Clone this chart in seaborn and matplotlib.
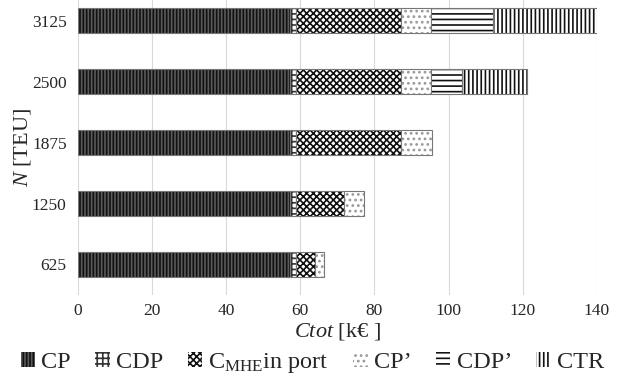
import numpy as np
import matplotlib
matplotlib.use("Agg")
import matplotlib.pyplot as plt
import seaborn as sns
from matplotlib.patches import Patch
from matplotlib.colors import to_rgba

# data (k€)
teu = ["3125", "2500", "1875", "1250", "625"]
cp = [57.2, 57.2, 57.2, 57.2, 57.2]
cdp = [1.6, 1.6, 1.6, 1.6, 1.6]
cmhe = [28.5, 28.5, 28.5, 13.0, 5.1]
cp2 = [7.9, 7.9, 8.1, 5.4, 2.5]
cdp2 = [16.7, 8.5, 0, 0, 0]
ctr = [28.0, 17.5, 0, 0, 0]

series = ["CP", "CDP", r"C$_{\rm MHE}$in port", "CP’", "CDP’", "CTR"]
values = [cp, cdp, cmhe, cp2, cdp2, ctr]
# facecolor, hatch, hatch colour
styles = [("#111111", "|||||", "#5a5a5a"),
          ("white", "+++", "#333333"),
          ("white", "xxxxx", "#111111"),
          ("white", "...", "#999999"),
          ("white", "---", "#111111"),
          ("white", "||||", "#111111")]

sns.set_style("white")
plt.rcParams["font.family"] = ["Liberation Serif", "DejaVu Serif"]
plt.rcParams["mathtext.fontset"] = "custom"
plt.rcParams["mathtext.rm"] = "Liberation Serif"
plt.rcParams["mathtext.it"] = "Liberation Serif:italic"
plt.rcParams["hatch.linewidth"] = 1.2

fig, ax = plt.subplots(figsize=(6.27, 3.83), dpi=100)

left = np.zeros(len(teu))
for vals, (fc, h, hc) in zip(values, styles):
    n0 = len(ax.patches)
    sns.barplot(x=vals, y=teu, left=left, width=0.41, color=fc, saturation=1,
                edgecolor="#777777", linewidth=0.8, hatch=h, ax=ax, zorder=3)
    for p in ax.patches[n0:]:
        p._hatch_color = to_rgba(hc)
        if p.get_width() == 0:
            p.set_visible(False)
    left += np.array(vals)

ax.set_xlim(0, 140)
ax.set_xticks(np.arange(0, 141, 20))
ax.set_ylim(4.5, -0.34)
ax.grid(axis="x", color="#d9d9d9", linewidth=0.8, zorder=0)
for s in ax.spines.values():
    s.set_visible(False)
ax.tick_params(axis="both", length=0, labelsize=12.5)
ax.tick_params(axis="y", pad=8)
ax.tick_params(axis="x", pad=6)

ax.set_xlabel(r"$\it{Ctot}$ [k€ ]", fontsize=16)
ax.set_ylabel(r"$\it{N}$ [TEU]", fontsize=16)
ax.xaxis.set_label_coords(0.5, -0.088)
ax.yaxis.set_label_coords(-0.086, 0.5)

handles = []
for (fc, h, hc) in styles:
    handles.append(Patch(facecolor=fc, edgecolor=hc, hatch=h, linewidth=0))
ax.legend(handles, series, loc="center", bbox_to_anchor=(0.452, -0.232),
          ncol=6, frameon=False, fontsize=17.5, handlelength=0.6, handleheight=0.6,
          handletextpad=0.25, columnspacing=1.0, borderpad=0, borderaxespad=0)

fig.subplots_adjust(left=0.124, right=0.952, top=1.0, bottom=0.23)
fig.savefig("out.png", dpi=100)
